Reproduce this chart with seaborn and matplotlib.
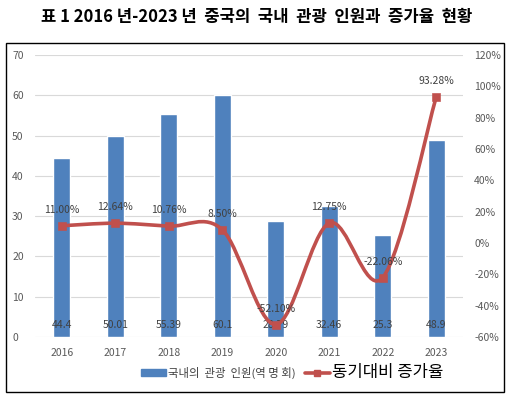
import matplotlib
matplotlib.use("Agg")
import matplotlib.pyplot as plt
import seaborn as sns
import pandas as pd
import numpy as np
from matplotlib.path import Path
from matplotlib.patches import PathPatch, Rectangle
from matplotlib.lines import Line2D

years = ["2016", "2017", "2018", "2019", "2020", "2021", "2022", "2023"]
tourists = [44.4, 50.01, 55.39, 60.1, 28.79, 32.46, 25.3, 48.9]
growth = [11.00, 12.64, 10.76, 8.50, -52.10, 12.75, -22.06, 93.28]
bar_label = "국내의  관광  인원(역 명 회)"
line_label = "동기대비 증가율"
title = "표 1 2016 년-2023 년  중국의  국내  관광  인원과  증가율  현황"

sns.set_theme(style="white")
plt.rcParams["font.family"] = ["Noto Sans CJK KR", "DejaVu Sans"]

BLUE = "#4F81BD"
RED = "#C0504D"
GRAY = "#595959"

fig = plt.figure(figsize=(5.14, 3.99), dpi=100)
ax = fig.add_axes([35/514, 1-337/399, (463-35)/514, (337-55)/399])

df = pd.DataFrame({"year": years, "tourists": tourists})
sns.barplot(data=df, x="year", y="tourists", color=BLUE, width=0.32,
            saturation=1, ax=ax, zorder=2)
ax.set_ylim(0, 70)
ax.set_yticks(range(0, 71, 10))
ax.set_xlim(-0.5, 7.5)
ax.set_xlabel("")
ax.set_ylabel("")
ax.grid(axis="y", color="#D9D9D9", linewidth=0.8, zorder=0)
ax.set_axisbelow(True)
for s in ax.spines.values():
    s.set_visible(False)
ax.tick_params(axis="x", length=0, labelsize=7.5, colors=GRAY, pad=8)
ax.tick_params(axis="y", length=0, labelsize=7.5, colors=GRAY, pad=16.5)
for lab in ax.get_yticklabels():
    lab.set_horizontalalignment("left")

for i, v in enumerate(tourists):
    ax.text(i, 3.0, f"{v:g}", ha="center", va="center", fontsize=7.5,
            color="#404040", zorder=5)

ax2 = ax.twinx()
ax2.set_ylim(-60, 120)
ax2.set_yticks(range(-60, 121, 20))
ax2.set_yticklabels([f"{t}%" for t in range(-60, 121, 20)])
for s in ax2.spines.values():
    s.set_visible(False)
ax2.tick_params(axis="y", length=0, labelsize=7.5, colors=GRAY, pad=8)
ax2.grid(False)

# smooth line (Excel-style Bezier through data points)
xs = np.arange(len(growth), dtype=float)
ys = np.array(growth, dtype=float)
verts = [(xs[0], ys[0])]
codes = [Path.MOVETO]
n = len(xs)
for i in range(n - 1):
    p0 = np.array([xs[max(i-1, 0)], ys[max(i-1, 0)]])
    p1 = np.array([xs[i], ys[i]])
    p2 = np.array([xs[i+1], ys[i+1]])
    p3 = np.array([xs[min(i+2, n-1)], ys[min(i+2, n-1)]])
    c1 = p1 + (p2 - p0) / 6.0
    c2 = p2 - (p3 - p1) / 6.0
    verts += [tuple(c1), tuple(c2), tuple(p2)]
    codes += [Path.CURVE4] * 3
ax2.add_patch(PathPatch(Path(verts, codes), facecolor="none", edgecolor=RED,
                        linewidth=2.6, zorder=3, capstyle="round"))
ldf = pd.DataFrame({"year": years, "growth": growth})
sns.scatterplot(data=ldf, x="year", y="growth", marker="s", s=30, color=RED,
                edgecolor=RED, ax=ax2, zorder=4, legend=False)
ax2.set_xlim(-0.5, 7.5)
ax2.set_ylabel("")
ax2.set_xlabel("")

for i, v in enumerate(growth):
    ax2.annotate(f"{v:.2f}%", (i, v), xytext=(0, 11.5), textcoords="offset points",
                 ha="center", va="center", fontsize=7.5, color="#404040", zorder=6)

# legend
handles = [Rectangle((0, 0), 1, 1, color=BLUE),
           Line2D([0], [0], color=RED, linewidth=2.6, marker="s", markersize=4.5)]
leg = fig.legend(handles, [bar_label, line_label], loc="center",
                 bbox_to_anchor=(292/514, 1-372/399), ncol=2, frameon=False,
                 handlelength=2.2, handleheight=0.5, columnspacing=0.8,
                 handletextpad=0.2, fontsize=8.2)
leg.get_texts()[0].set_color("#404040")
leg.get_texts()[1].set_fontsize(12)
leg.get_texts()[1].set_color("black")

# chart border
fig.patches.append(Rectangle((6/514, 1-392/399), (504-6)/514, (392-43)/399,
                             transform=fig.transFigure, fill=False,
                             edgecolor="black", linewidth=1.0))

fig.text(0.5, 1-17/399, title, ha="center", va="center", fontsize=12,
         fontweight="bold", color="black")

fig.savefig("out.png", dpi=100)
